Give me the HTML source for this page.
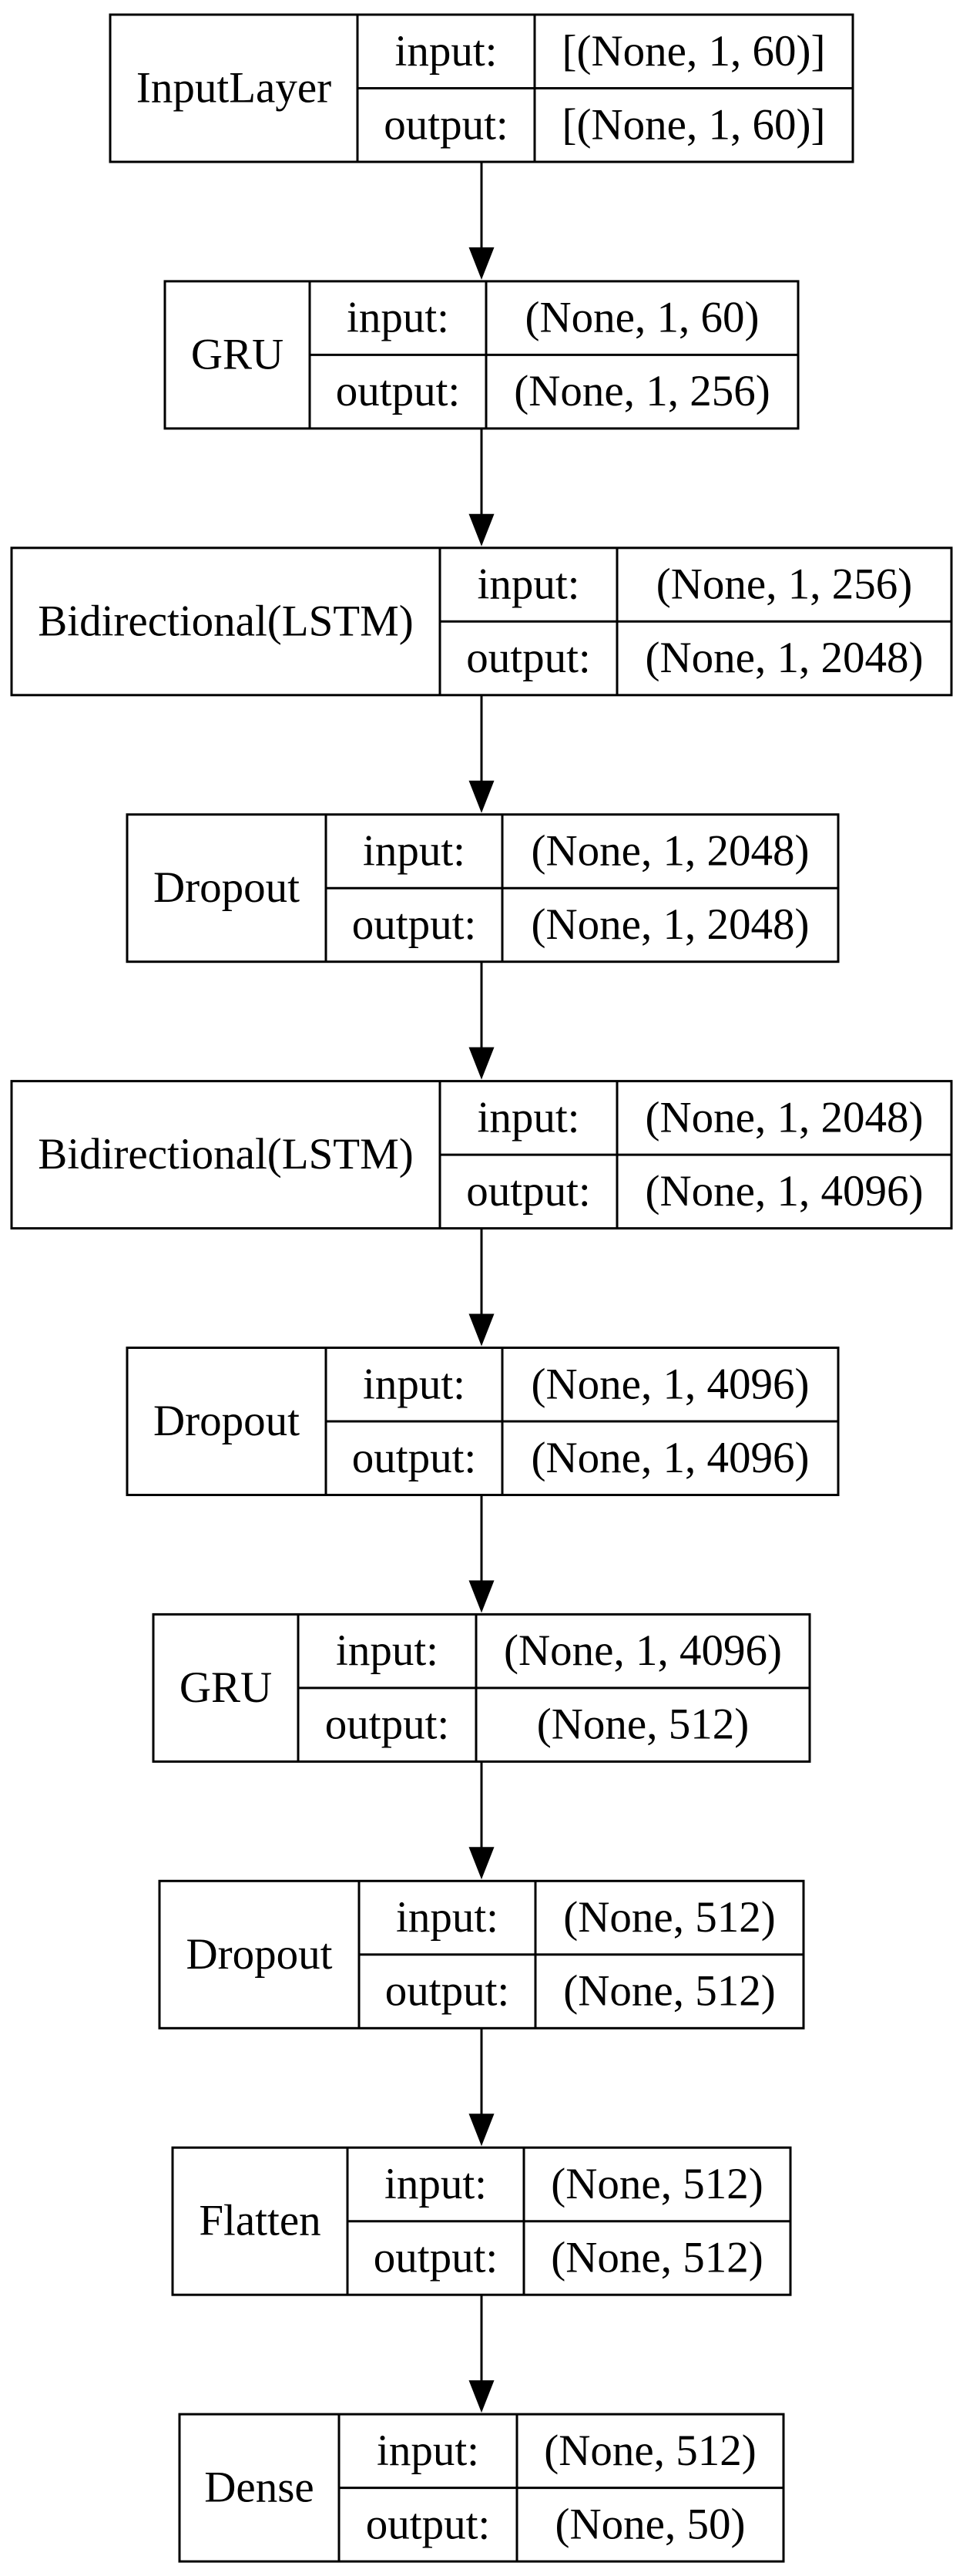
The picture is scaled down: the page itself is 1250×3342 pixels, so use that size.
<!DOCTYPE html>
<html><head><meta charset="utf-8"><style>
html,body{margin:0;padding:0;background:#fff;}
svg{display:block;}
text{font-family:"Liberation Serif",serif;font-size:57px;fill:#000;}
</style></head><body>
<svg width="1250" height="3342" viewBox="0 0 1250 3342" xmlns="http://www.w3.org/2000/svg">
<g transform="translate(0,0)"><rect x="143" y="19" width="964" height="191" fill="none" stroke="#000" stroke-width="3"/><line x1="464" y1="19" x2="464" y2="210" stroke="#000" stroke-width="3"/><line x1="694" y1="19" x2="694" y2="210" stroke="#000" stroke-width="3"/><line x1="464" y1="114.5" x2="1107" y2="114.5" stroke="#000" stroke-width="3"/><text x="303.5" y="132.5" text-anchor="middle">InputLayer</text><text x="579" y="84.75" text-anchor="middle">input:</text><text x="579" y="180.25" text-anchor="middle">output:</text><text x="900.5" y="84.75" text-anchor="middle">[(None, 1, 60)]</text><text x="900.5" y="180.25" text-anchor="middle">[(None, 1, 60)]</text></g>
<g transform="translate(0,-0.7)"><line x1="625" y1="210" x2="625" y2="322" stroke="#000" stroke-width="3"/><polygon points="608.5,321.6 641.5,321.6 625,363.6" fill="#000"/><rect x="214" y="365.6" width="822" height="191" fill="none" stroke="#000" stroke-width="3"/><line x1="402" y1="365.6" x2="402" y2="556.6" stroke="#000" stroke-width="3"/><line x1="631" y1="365.6" x2="631" y2="556.6" stroke="#000" stroke-width="3"/><line x1="402" y1="461.1" x2="1036" y2="461.1" stroke="#000" stroke-width="3"/><text x="308" y="479.1" text-anchor="middle">GRU</text><text x="516.5" y="431.35" text-anchor="middle">input:</text><text x="516.5" y="526.85" text-anchor="middle">output:</text><text x="833.5" y="431.35" text-anchor="middle">(None, 1, 60)</text><text x="833.5" y="526.85" text-anchor="middle">(None, 1, 256)</text></g>
<g transform="translate(0,-1.4)"><line x1="625" y1="556.6" x2="625" y2="668.6" stroke="#000" stroke-width="3"/><polygon points="608.5,668.2 641.5,668.2 625,710.2" fill="#000"/><rect x="15" y="712.2" width="1220" height="191" fill="none" stroke="#000" stroke-width="3"/><line x1="571" y1="712.2" x2="571" y2="903.2" stroke="#000" stroke-width="3"/><line x1="801" y1="712.2" x2="801" y2="903.2" stroke="#000" stroke-width="3"/><line x1="571" y1="807.7" x2="1235" y2="807.7" stroke="#000" stroke-width="3"/><text x="293" y="825.7" text-anchor="middle">Bidirectional(LSTM)</text><text x="686" y="777.95" text-anchor="middle">input:</text><text x="686" y="873.45" text-anchor="middle">output:</text><text x="1018" y="777.95" text-anchor="middle">(None, 1, 256)</text><text x="1018" y="873.45" text-anchor="middle">(None, 1, 2048)</text></g>
<g transform="translate(0,-2.1)"><line x1="625" y1="903.2" x2="625" y2="1015.2" stroke="#000" stroke-width="3"/><polygon points="608.5,1014.8 641.5,1014.8 625,1056.8" fill="#000"/><rect x="165" y="1058.8" width="923" height="191" fill="none" stroke="#000" stroke-width="3"/><line x1="423" y1="1058.8" x2="423" y2="1249.8" stroke="#000" stroke-width="3"/><line x1="652" y1="1058.8" x2="652" y2="1249.8" stroke="#000" stroke-width="3"/><line x1="423" y1="1154.3" x2="1088" y2="1154.3" stroke="#000" stroke-width="3"/><text x="294" y="1172.3" text-anchor="middle">Dropout</text><text x="537.5" y="1124.55" text-anchor="middle">input:</text><text x="537.5" y="1220.05" text-anchor="middle">output:</text><text x="870" y="1124.55" text-anchor="middle">(None, 1, 2048)</text><text x="870" y="1220.05" text-anchor="middle">(None, 1, 2048)</text></g>
<g transform="translate(0,-2.8)"><line x1="625" y1="1249.8" x2="625" y2="1361.8" stroke="#000" stroke-width="3"/><polygon points="608.5,1361.4 641.5,1361.4 625,1403.4" fill="#000"/><rect x="15" y="1405.4" width="1220" height="191" fill="none" stroke="#000" stroke-width="3"/><line x1="571" y1="1405.4" x2="571" y2="1596.4" stroke="#000" stroke-width="3"/><line x1="801" y1="1405.4" x2="801" y2="1596.4" stroke="#000" stroke-width="3"/><line x1="571" y1="1500.9" x2="1235" y2="1500.9" stroke="#000" stroke-width="3"/><text x="293" y="1518.9" text-anchor="middle">Bidirectional(LSTM)</text><text x="686" y="1471.15" text-anchor="middle">input:</text><text x="686" y="1566.65" text-anchor="middle">output:</text><text x="1018" y="1471.15" text-anchor="middle">(None, 1, 2048)</text><text x="1018" y="1566.65" text-anchor="middle">(None, 1, 4096)</text></g>
<g transform="translate(0,-3.5)"><line x1="625" y1="1596.4" x2="625" y2="1708.4" stroke="#000" stroke-width="3"/><polygon points="608.5,1708 641.5,1708 625,1750" fill="#000"/><rect x="165" y="1752" width="923" height="191" fill="none" stroke="#000" stroke-width="3"/><line x1="423" y1="1752" x2="423" y2="1943" stroke="#000" stroke-width="3"/><line x1="652" y1="1752" x2="652" y2="1943" stroke="#000" stroke-width="3"/><line x1="423" y1="1847.5" x2="1088" y2="1847.5" stroke="#000" stroke-width="3"/><text x="294" y="1865.5" text-anchor="middle">Dropout</text><text x="537.5" y="1817.75" text-anchor="middle">input:</text><text x="537.5" y="1913.25" text-anchor="middle">output:</text><text x="870" y="1817.75" text-anchor="middle">(None, 1, 4096)</text><text x="870" y="1913.25" text-anchor="middle">(None, 1, 4096)</text></g>
<g transform="translate(0,-4.2)"><line x1="625" y1="1943" x2="625" y2="2055" stroke="#000" stroke-width="3"/><polygon points="608.5,2054.6 641.5,2054.6 625,2096.6" fill="#000"/><rect x="199" y="2098.6" width="852" height="191" fill="none" stroke="#000" stroke-width="3"/><line x1="387" y1="2098.6" x2="387" y2="2289.6" stroke="#000" stroke-width="3"/><line x1="618" y1="2098.6" x2="618" y2="2289.6" stroke="#000" stroke-width="3"/><line x1="387" y1="2194.1" x2="1051" y2="2194.1" stroke="#000" stroke-width="3"/><text x="293" y="2212.1" text-anchor="middle">GRU</text><text x="502.5" y="2164.35" text-anchor="middle">input:</text><text x="502.5" y="2259.85" text-anchor="middle">output:</text><text x="834.5" y="2164.35" text-anchor="middle">(None, 1, 4096)</text><text x="834.5" y="2259.85" text-anchor="middle">(None, 512)</text></g>
<g transform="translate(0,-4.9)"><line x1="625" y1="2289.6" x2="625" y2="2401.6" stroke="#000" stroke-width="3"/><polygon points="608.5,2401.2 641.5,2401.2 625,2443.2" fill="#000"/><rect x="207" y="2445.2" width="836" height="191" fill="none" stroke="#000" stroke-width="3"/><line x1="466" y1="2445.2" x2="466" y2="2636.2" stroke="#000" stroke-width="3"/><line x1="695" y1="2445.2" x2="695" y2="2636.2" stroke="#000" stroke-width="3"/><line x1="466" y1="2540.7" x2="1043" y2="2540.7" stroke="#000" stroke-width="3"/><text x="336.5" y="2558.7" text-anchor="middle">Dropout</text><text x="580.5" y="2510.95" text-anchor="middle">input:</text><text x="580.5" y="2606.45" text-anchor="middle">output:</text><text x="869" y="2510.95" text-anchor="middle">(None, 512)</text><text x="869" y="2606.45" text-anchor="middle">(None, 512)</text></g>
<g transform="translate(0,-5.6)"><line x1="625" y1="2636.2" x2="625" y2="2748.2" stroke="#000" stroke-width="3"/><polygon points="608.5,2747.8 641.5,2747.8 625,2789.8" fill="#000"/><rect x="224" y="2791.8" width="802" height="191" fill="none" stroke="#000" stroke-width="3"/><line x1="451" y1="2791.8" x2="451" y2="2982.8" stroke="#000" stroke-width="3"/><line x1="680" y1="2791.8" x2="680" y2="2982.8" stroke="#000" stroke-width="3"/><line x1="451" y1="2887.3" x2="1026" y2="2887.3" stroke="#000" stroke-width="3"/><text x="337.5" y="2905.3" text-anchor="middle">Flatten</text><text x="565.5" y="2857.55" text-anchor="middle">input:</text><text x="565.5" y="2953.05" text-anchor="middle">output:</text><text x="853" y="2857.55" text-anchor="middle">(None, 512)</text><text x="853" y="2953.05" text-anchor="middle">(None, 512)</text></g>
<g transform="translate(0,-6.3)"><line x1="625" y1="2982.8" x2="625" y2="3094.8" stroke="#000" stroke-width="3"/><polygon points="608.5,3094.4 641.5,3094.4 625,3136.4" fill="#000"/><rect x="233" y="3138.4" width="784" height="191" fill="none" stroke="#000" stroke-width="3"/><line x1="440" y1="3138.4" x2="440" y2="3329.4" stroke="#000" stroke-width="3"/><line x1="671" y1="3138.4" x2="671" y2="3329.4" stroke="#000" stroke-width="3"/><line x1="440" y1="3233.9" x2="1017" y2="3233.9" stroke="#000" stroke-width="3"/><text x="336.5" y="3251.9" text-anchor="middle">Dense</text><text x="555.5" y="3204.15" text-anchor="middle">input:</text><text x="555.5" y="3299.65" text-anchor="middle">output:</text><text x="844" y="3204.15" text-anchor="middle">(None, 512)</text><text x="844" y="3299.65" text-anchor="middle">(None, 50)</text></g>
</svg>
</body></html>
